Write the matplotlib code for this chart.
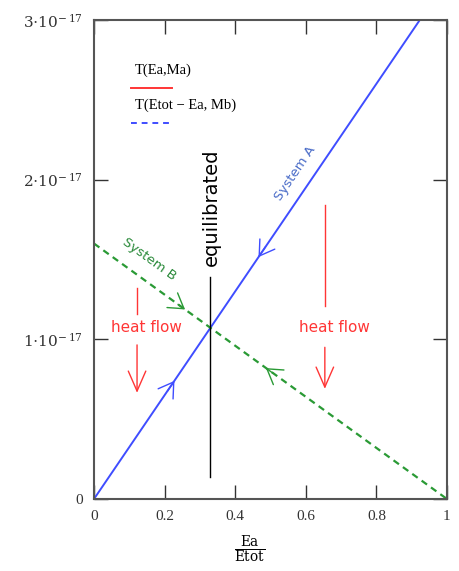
import matplotlib
matplotlib.use("Agg")
import matplotlib.pyplot as plt
from matplotlib.ticker import FuncFormatter

plt.rcParams["mathtext.fontset"] = "dejavuserif"

# line end points (x = Ea/Etot)
x_a = [0.0, 0.923]
t_a = [0.0, 3.0e-17]
x_b = [0.0, 1.0]
t_b = [1.6e-17, 0.0]

x_ticks = [0, 0.2, 0.4, 0.6, 0.8, 1]
x_tick_labels = ["0", "0.2", "0.4", "0.6", "0.8", "1"]
y_ticks = [0, 1e-17, 2e-17, 3e-17]

x_equil = 0.329
equil_span = [0.14e-17, 1.39e-17]

# direction chevrons on the two lines: (tip x, tip y, towards dx sign)
a_marks = [(0.466, 1.515e-17, -1), (0.228, 0.74e-17, 1)]
b_marks = [(0.258, 1.187e-17, 1), (0.487, 0.82e-17, -1)]

blue = "#3f4dff"
green = "#2a9a35"
red = "#ff3535"

fig = plt.figure(figsize=(4.6, 5.71), dpi=100)
ax = fig.add_axes([0.2043, 0.1261, 0.7674, 0.8389])

ax.plot(x_a, t_a, color=blue, lw=1.4)
ax.plot(x_b, t_b, color=green, lw=1.6, ls=(0, (3, 2.2)))
ax.plot([x_equil, x_equil], equil_span, color="black", lw=1.0)

slope_a = (t_a[1] - t_a[0]) / (x_a[1] - x_a[0])
slope_b = (t_b[1] - t_b[0]) / (x_b[1] - x_b[0])
for marks, slope, col in [(a_marks, slope_a, blue), (b_marks, slope_b, green)]:
    for xt, yt, sgn in marks:
        dx = -0.02 * sgn
        ax.annotate("", xy=(xt, yt), xytext=(xt + dx, yt + slope * dx),
                    arrowprops=dict(arrowstyle="->,head_length=0.8,head_width=0.5",
                                    color=col, lw=1.0, shrinkA=0, shrinkB=0,
                                    mutation_scale=13))

# heat flow markers
for hx, top, bottom, a_top, a_bot, tx in [
        (0.122, 1.32e-17, 1.16e-17, 0.965e-17, 0.665e-17, 0.15),
        (0.654, 1.84e-17, 1.21e-17, 0.95e-17, 0.69e-17, 0.68)]:
    ax.plot([hx, hx], [top, bottom], color=red, lw=1.0)
    ax.annotate("", xy=(hx, a_bot), xytext=(hx, a_top),
                arrowprops=dict(arrowstyle="->,head_length=0.8,head_width=0.35",
                                color=red, lw=1.0, shrinkA=0, shrinkB=0,
                                mutation_scale=18))
    ax.text(tx, 1.075e-17, "heat flow", color=red, fontsize=11,
            ha="center", va="center")

ax.text(0.569, 2.04e-17, "System A", color="#4a6cc8", fontsize=9.5,
        rotation=56, ha="center", va="center")
ax.text(0.156, 1.5e-17, "System B", color="#2a8a3a", fontsize=9.5,
        rotation=-36, ha="center", va="center")
ax.text(0.333, 1.83e-17, "equilibrated", color="black", fontsize=14,
        rotation=90, ha="center", va="center")

# legend drawn by hand, as in the original
ax.text(0.115, 0.895, "T(Ea,Ma)", transform=ax.transAxes,
        family="Liberation Serif", fontsize=10.5, va="center")
ax.plot([0.105, 0.22], [0.857, 0.857], transform=ax.transAxes,
        color=red, lw=1.4)
ax.text(0.115, 0.822, "T(Etot \u2212 Ea, Mb)", transform=ax.transAxes,
        family="Liberation Serif", fontsize=10.5, va="center")
ax.plot([0.105, 0.22], [0.785, 0.785], transform=ax.transAxes,
        color=blue, lw=1.4, ls=(0, (3, 2.5)))

ax.set_xlim(0, 1)
ax.set_ylim(0, 3e-17)
ax.set_xticks(x_ticks)
ax.set_xticklabels(x_tick_labels)
ax.set_yticks(y_ticks)


def y_fmt(v, pos):
    n = round(v / 1e-17)
    if n == 0:
        return "0"
    return r"$%d{\cdot}10^{-\,17}$" % n


ax.yaxis.set_major_formatter(FuncFormatter(y_fmt))
ax.tick_params(direction="in", length=10, width=1.0, top=True, right=True,
               labelsize=11, colors="#333333", pad=8)
for lab in ax.get_xticklabels() + ax.get_yticklabels():
    lab.set_family("Liberation Serif")
for sp in ax.spines.values():
    sp.set_color("#555555")
    sp.set_linewidth(1.5)

ax.text(0.44, -0.107, r"$\frac{\mathrm{Ea}}{\mathrm{Etot}}$", transform=ax.transAxes,
        ha="center", va="center", fontsize=14)

fig.savefig("out.png", dpi=100)
